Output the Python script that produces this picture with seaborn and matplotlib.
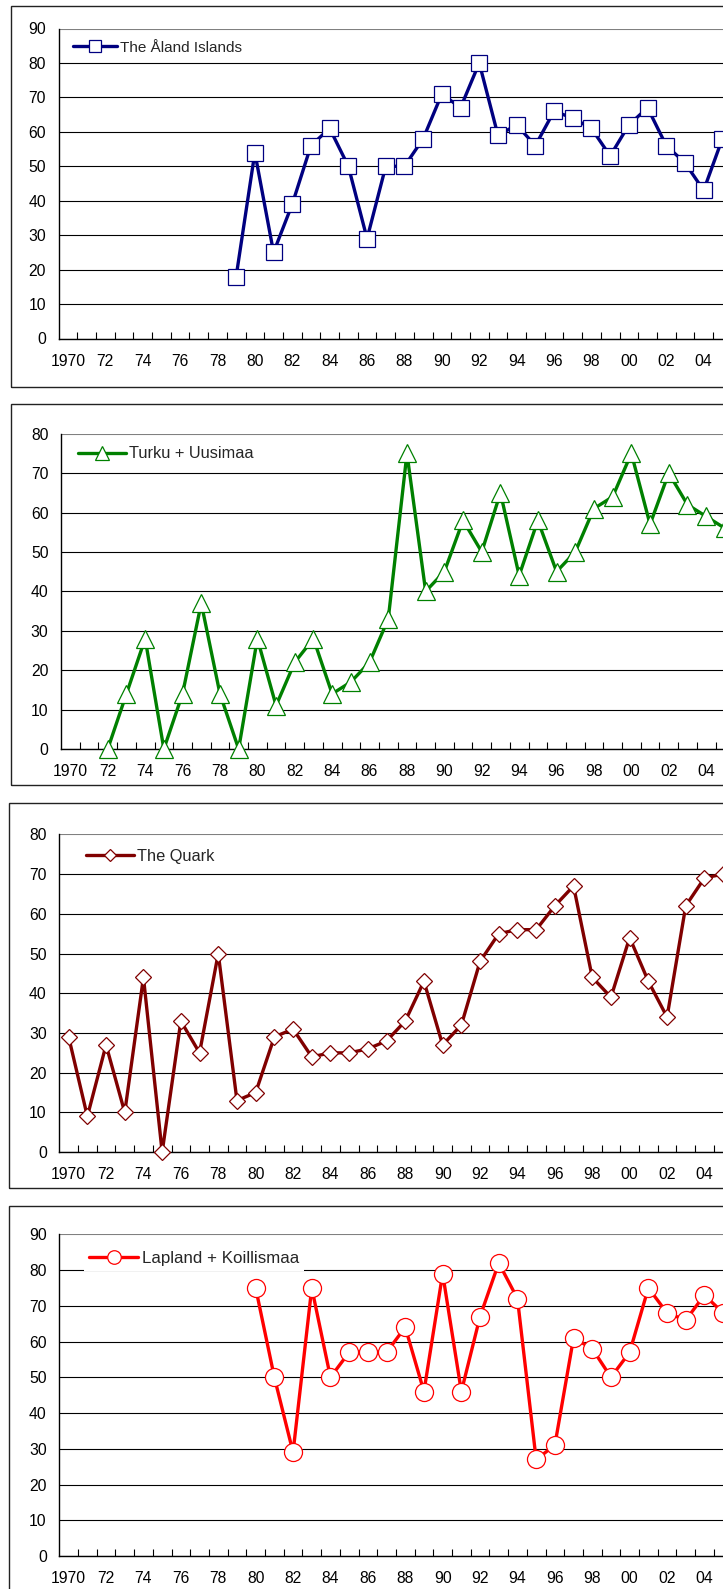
import matplotlib
matplotlib.use("Agg")
import matplotlib.pyplot as plt
import seaborn as sns
import pandas as pd
import numpy as np
from matplotlib.patches import Rectangle

# ---------------- data ----------------
aland_years = list(range(1979, 2006))
aland_values = [18, 54, 25, 39, 56, 61, 50, 29, 50, 50, 58, 71, 67, 80, 59, 62, 56, 66, 64, 61,
                53, 62, 67, 56, 51, 43, 58]

turku_years = list(range(1972, 2006))
turku_values = [0, 14, 28, 0, 14, 37, 14, 0, 28, 11, 22, 28, 14, 17, 22, 33, 75, 40, 45, 58,
                50, 65, 44, 58, 45, 50, 61, 64, 75, 57, 70, 62, 59, 56]

quark_years = list(range(1970, 2006))
quark_values = [29, 9, 27, 10, 44, 0, 33, 25, 50, 13, 15, 29, 31, 24, 25, 25, 26, 28, 33, 43,
                27, 32, 48, 55, 56, 56, 62, 67, 44, 39, 54, 43, 34, 62, 69, 70]

lapland_years = list(range(1980, 2006))
lapland_values = [75, 50, 29, 75, 50, 57, 57, 57, 64, 46, 79, 46, 67, 82, 72, 27, 31, 61, 58, 50,
                  57, 75, 68, 66, 73, 68]

tick_years = list(range(1970, 2005, 2))
tick_labels = ["1970", "72", "74", "76", "78", "80", "82", "84", "86", "88", "90", "92", "94",
               "96", "98", "00", "02", "04"]

series_names = ["The Åland Islands", "Turku + Uusimaa", "The Quark", "Lapland + Koillismaa"]

# ---------------- style ----------------
sns.set_style("white")
plt.rcParams["font.family"] = ["Liberation Sans", "DejaVu Sans"]

W, H = 723, 1589
DPI = 100
fig = plt.figure(figsize=(W / DPI, H / DPI), dpi=DPI)
fig.patch.set_facecolor("white")

YEAR_PX = 18.7
TICK_FS = 11.3

panels = [
    dict(years=aland_years, values=aland_values, name=series_names[0], color="#000080",
         marker="s", ms=11, ymax=90, left=58.5, top=28.5, bottom=338.5,
         box=(11, 6, 386.7), leg_x=14, leg_y=47.7, leg_fs=11.0),
    dict(years=turku_years, values=turku_values, name=series_names[1], color="#008000",
         marker="^", ms=13, ymax=80, left=61, top=433.7, bottom=749,
         box=(11, 404.3, 785), leg_x=17, leg_y=454, leg_fs=11.8),
    dict(years=quark_years, values=quark_values, name=series_names[2], color="#800000",
         marker="D", ms=8.6, ymax=80, left=59.3, top=834.3, bottom=1152.2,
         box=(9, 802.7, 1188), leg_x=27, leg_y=856.3, leg_fs=11.8),
    dict(years=lapland_years, values=lapland_values, name=series_names[3], color="#FF0000",
         marker="o", ms=13, ymax=90, left=59.3, top=1234.3, bottom=1556,
         box=(9, 1206, 1600), leg_x=30, leg_y=1258.6, leg_fs=12.2),
]

for p in panels:
    # panel border
    bl, bt, bb = p["box"]
    fig.patches.append(Rectangle((bl / W, 1 - bb / H), (W + 40 - bl) / W, (bb - bt) / H,
                                 transform=fig.transFigure, fill=False,
                                 edgecolor="#222222", linewidth=1.0, zorder=0))

    right = p["left"] + 36 * YEAR_PX
    ax = fig.add_axes([p["left"] / W, 1 - p["bottom"] / H,
                       (right - p["left"]) / W, (p["bottom"] - p["top"]) / H])
    ax.set_facecolor("none")

    df = pd.DataFrame({"year": p["years"], "value": p["values"]})
    sns.lineplot(data=df, x="year", y="value", ax=ax, color=p["color"], linewidth=2.4,
                 marker=p["marker"], markersize=p["ms"], markerfacecolor="white",
                 markeredgecolor=p["color"], markeredgewidth=0.9, label=p["name"],
                 zorder=3, clip_on=False)

    ax.set_xlim(1969.5, 2005.5)
    ax.set_ylim(0, p["ymax"])
    ax.set_xlabel("")
    ax.set_ylabel("")

    ax.set_yticks(np.arange(0, p["ymax"] + 1, 10))
    ax.set_xticks(tick_years)
    ax.set_xticklabels(tick_labels)
    ax.set_xticks(np.arange(1970.5, 2006, 1), minor=True)
    ax.tick_params(axis="x", which="major", length=0, pad=11, labelsize=TICK_FS, colors="black")
    ax.tick_params(axis="x", which="minor", direction="in", length=5, width=0.8,
                   color="black", bottom=True)
    ax.tick_params(axis="y", length=0, pad=9, labelsize=TICK_FS, colors="black")

    ax.grid(axis="y", color="black", linewidth=0.8, zorder=0)
    ax.grid(axis="x", visible=False)
    ax.set_axisbelow(True)
    gl = ax.get_ygridlines()
    gl[-1].set_color("#808080")

    for s in ["top", "right"]:
        ax.spines[s].set_visible(False)
    for s in ["left", "bottom"]:
        ax.spines[s].set_color("black")
        ax.spines[s].set_linewidth(1.0)

    axw = right - p["left"]
    axh = p["bottom"] - p["top"]
    fs_px = p["leg_fs"] * DPI / 72
    xf = (p["leg_x"] - 0.3 * fs_px) / axw
    yf = (p["bottom"] - p["leg_y"]) / axh
    leg = ax.legend(loc="center left", bbox_to_anchor=(xf, yf), bbox_transform=ax.transAxes,
                    borderaxespad=0, borderpad=0.3, frameon=True, fancybox=False,
                    facecolor="white", edgecolor="none", framealpha=1.0,
                    fontsize=p["leg_fs"], handlelength=2.9, handletextpad=0.2,
                    markerscale=0.75)
    leg.set_zorder(5)

fig.savefig("out.png", dpi=DPI, facecolor="white")
